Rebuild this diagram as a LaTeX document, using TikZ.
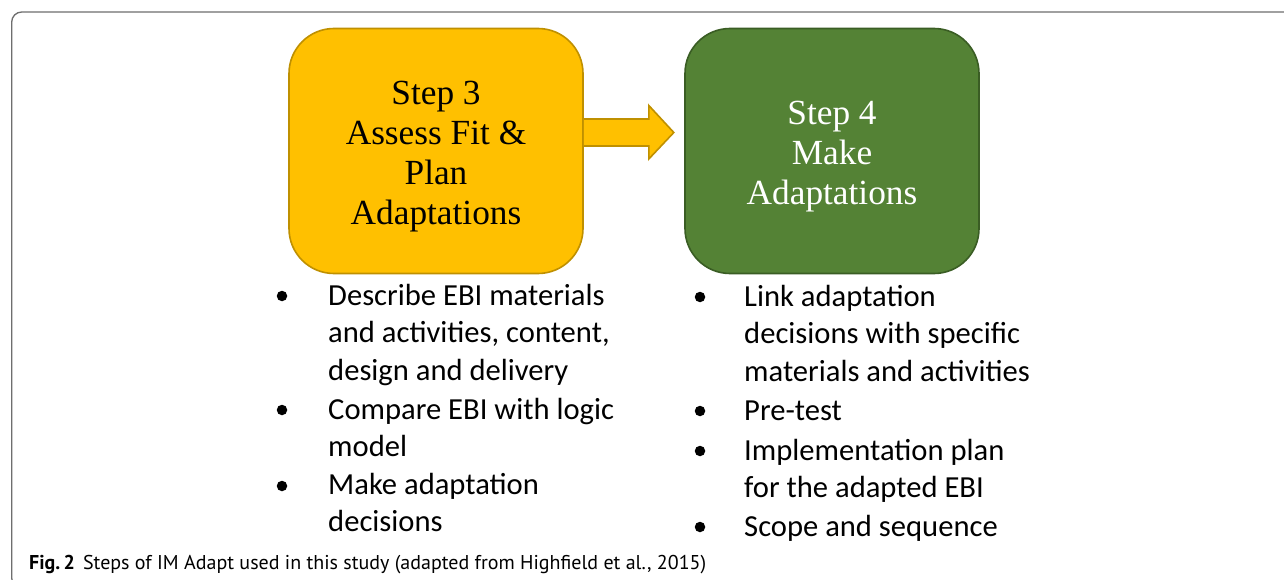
\documentclass[tikz,border=0pt]{standalone}
\usepackage{fontspec}
\usetikzlibrary{calc}
\newfontfamily\boxfont{Liberation Serif}
\newfontfamily\listfont{Carlito}
\newfontfamily\capfont{PT Sans}

\definecolor{stepgold}{HTML}{FFC000}
\definecolor{stepgoldline}{HTML}{BF9000}
\definecolor{stepgreen}{HTML}{548235}
\definecolor{stepgreenline}{HTML}{3A5D24}
\definecolor{framegray}{HTML}{6E6E6E}

\tikzset{
  stepbox/.style={rounded corners=45pt, minimum width=294pt, minimum height=245pt,
    inner sep=0pt, line width=1.6pt, align=center,
    font=\boxfont\fontsize{35.3}{40}\selectfont},
  itemdot/.style={circle, fill=black, inner sep=0pt, minimum size=10.5pt},
  itemtext/.style={anchor=base west, inner sep=0pt,
    font=\listfont\fontsize{30.6}{37.5}\selectfont},
  blockarrow/.style={fill=stepgold, draw=stepgoldline, line width=1.6pt, line join=miter}
}

\newcommand{\itemlines}[1]{\parbox[t]{320pt}{\raggedright #1}}
% step label, set a little below the box centre
\newcommand{\steplabel}[1]{\raisebox{-6pt}[\height][\depth]{\parbox{290pt}{\centering #1}}}

\begin{document}
\begin{tikzpicture}[x=1pt,y=-1pt]
  \useasboundingbox (0,0) rectangle (1284,580);
  \fill[white] (0,0) rectangle (1284,580);

  % outer frame of the figure
  \begin{scope}
    \clip (0,0) rectangle (1284,580);
    \draw[framegray, line width=1.3pt, rounded corners=10pt] (11.7,12) rectangle (1310,588);
  \end{scope}

  % the two steps
  \node[stepbox, fill=stepgold, draw=stepgoldline, text=black] (s3) at (436,151)
    {\steplabel{Step 3\\Assess Fit \&\\Plan\\Adaptations}};
  \node[stepbox, fill=stepgreen, draw=stepgreenline, text=white] (s4) at (832,151)
    {\steplabel{Step 4\\Make\\Adaptations}};

  % block arrow from step 3 to step 4
  \coordinate (ab) at ($(s3.east)+(0,-18.5)$);
  \draw[blockarrow]
    ($(ab)+(0,-13.5)$) -- ++(65,0) -- ++(0,-13.5) -- ($(ab)+(90,0)$)
    -- ($(ab)+(65,26.5)$) -- ++(0,-13) -- ($(ab)+(0,13.5)$);

  % activities of step 3
  \node[itemdot] (d1) at (282,296) {};
  \node[itemtext] (t1) at (328,305)
    {\itemlines{Describe EBI materials\\and activities, content,\\design and delivery}};
  \node[itemdot] (d2) at (282,410) {};
  \node[itemtext] (t2) at (328,419)
    {\itemlines{Compare EBI with logic\\model}};
  \node[itemdot] (d3) at (282,486) {};
  \node[itemtext] (t3) at (328,494)
    {\itemlines{Make adaptation\\decisions}};

  % activities of step 4
  \node[itemdot] (e1) at (700,297) {};
  \node[itemtext] (u1) at (744,306)
    {\itemlines{Link adaptation\\decisions with specific\\materials and activities}};
  \node[itemdot] (e2) at (700,411) {};
  \node[itemtext] (u2) at (744,420)
    {\itemlines{Pre-test}};
  \node[itemdot] (e3) at (700,451) {};
  \node[itemtext] (u3) at (744,460)
    {\itemlines{Implementation plan\\for the adapted EBI}};
  \node[itemdot] (e4) at (700,527) {};
  \node[itemtext] (u4) at (744,536)
    {\itemlines{Scope and sequence}};

  % caption
  \node[anchor=base west, inner sep=0pt, font=\capfont\fontsize{20}{23}\selectfont] (cap) at (29,569)
    {\textbf{Fig.\,2}\hspace{8pt}Steps of IM Adapt used in this study (adapted from Highfield et al., 2015)};
\end{tikzpicture}
\end{document}
